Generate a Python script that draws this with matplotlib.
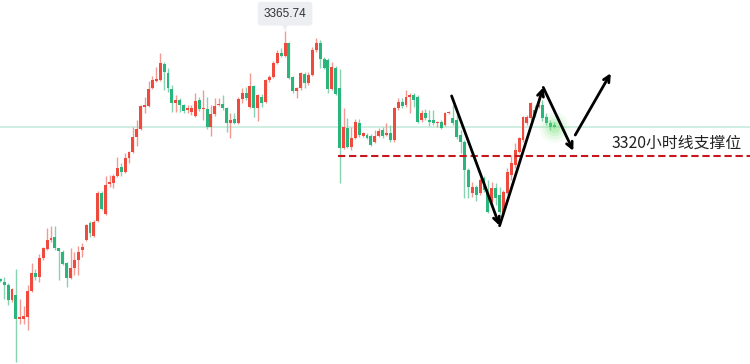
import matplotlib
matplotlib.use('Agg')
import matplotlib.pyplot as plt
import matplotlib.transforms as mtransforms
import numpy as np

plt.rcParams['font.family'] = ['Noto Sans CJK SC', 'DejaVu Sans']

# candle data (hourly OHLC)
opens = [
    3275.0, 3274.0, 3272.8, 3267.3, 3269.1, 3260.4, 3260.4, 3261.1, 3270.6, 3277.2,
    3275.7, 3282.7, 3286.0, 3289.3, 3290.4, 3286.3, 3284.9, 3280.8, 3275.4, 3279.0,
    3281.9, 3285.6, 3289.3, 3295.5, 3290.7, 3296.2, 3306.5, 3298.8, 3309.8, 3310.1,
    3312.7, 3316.0, 3314.2, 3319.3, 3321.5, 3327.0, 3329.9, 3337.9, 3338.3, 3344.9,
    3347.5, 3347.8, 3353.7, 3350.4, 3344.5, 3339.4, 3340.5, 3338.7, 3336.8, 3336.1,
    3334.6, 3340.5, 3337.2, 3337.2, 3330.6, 3335.4, 3338.7, 3339.0, 3337.6, 3332.1,
    3333.5, 3332.1, 3340.9, 3343.1, 3337.9, 3345.6, 3337.6, 3341.6, 3339.8, 3347.8,
    3348.9, 3354.0, 3357.7, 3356.6, 3361.4, 3348.9, 3343.8, 3344.9, 3350.0, 3346.7,
    3349.7, 3358.8, 3361.4, 3355.5, 3355.1, 3344.5, 3352.2, 3344.9, 3322.9, 3330.3,
    3323.3, 3326.6, 3332.1, 3327.3, 3327.7, 3327.3, 3325.1, 3327.3, 3329.5, 3327.7,
    3328.4, 3325.9, 3337.6, 3339.8, 3338.7, 3341.6, 3342.3, 3341.6, 3333.2, 3335.7,
    3333.2, 3333.2, 3332.1, 3332.4, 3331.4, 3335.7, 3333.9, 3333.2, 3327.7, 3325.1,
    3314.9, 3306.5, 3308.7, 3306.5, 3312.0, 3306.5, 3303.2, 3308.3, 3305.7, 3299.1,
    3306.5, 3313.1, 3316.7, 3321.5, 3325.9, 3332.1, 3333.9, 3336.8, 3337.9, 3338.7,
    3334.3, 3332.1, 3331.4,
]
closes = [
    3274.3, 3272.8, 3267.3, 3271.3, 3260.4, 3261.1, 3261.3, 3270.6, 3277.2, 3275.7,
    3282.7, 3286.3, 3289.3, 3290.0, 3286.3, 3285.2, 3280.5, 3275.4, 3279.0, 3281.9,
    3284.9, 3286.7, 3294.8, 3291.8, 3295.9, 3306.5, 3300.6, 3309.4, 3310.5, 3312.7,
    3315.6, 3314.2, 3319.3, 3321.5, 3327.0, 3329.9, 3338.3, 3338.7, 3344.5, 3347.8,
    3348.2, 3354.0, 3350.8, 3344.9, 3339.4, 3340.5, 3338.7, 3336.5, 3337.6, 3337.6,
    3340.1, 3337.2, 3337.6, 3330.6, 3335.4, 3338.3, 3339.0, 3337.6, 3332.1, 3333.2,
    3332.1, 3340.9, 3343.1, 3341.2, 3345.6, 3337.6, 3342.3, 3339.4, 3347.8, 3348.9,
    3354.0, 3357.7, 3356.6, 3361.4, 3348.5, 3343.8, 3344.9, 3350.4, 3346.7, 3349.7,
    3358.8, 3361.4, 3355.5, 3352.2, 3344.5, 3352.6, 3342.7, 3322.9, 3330.6, 3323.3,
    3326.6, 3332.4, 3327.7, 3328.4, 3326.6, 3324.0, 3327.3, 3329.2, 3327.3, 3328.4,
    3325.9, 3337.6, 3339.8, 3338.3, 3341.6, 3342.3, 3340.5, 3332.4, 3335.7, 3333.9,
    3332.4, 3332.1, 3332.4, 3330.3, 3335.7, 3336.1, 3332.1, 3327.0, 3325.1, 3314.9,
    3308.7, 3308.7, 3305.7, 3311.2, 3307.6, 3299.5, 3308.3, 3304.6, 3299.5, 3306.8,
    3314.2, 3317.4, 3322.2, 3326.6, 3334.3, 3334.3, 3339.4, 3335.0, 3338.7, 3333.9,
    3332.1, 3330.6, 3330.6,
]
highs = [
    3275.4, 3275.7, 3273.5, 3271.7, 3278.7, 3267.7, 3265.1, 3272.8, 3280.8, 3278.7,
    3284.1, 3286.7, 3293.7, 3294.4, 3294.4, 3286.3, 3285.6, 3281.2, 3286.3, 3284.9,
    3287.1, 3288.2, 3295.1, 3296.2, 3296.6, 3307.2, 3307.2, 3312.7, 3313.1, 3313.4,
    3319.6, 3317.4, 3321.1, 3321.8, 3330.6, 3333.2, 3338.7, 3341.6, 3347.5, 3349.3,
    3352.6, 3357.7, 3354.4, 3352.2, 3346.0, 3342.3, 3341.2, 3339.0, 3338.7, 3338.7,
    3343.1, 3341.6, 3344.2, 3341.6, 3338.7, 3341.2, 3341.2, 3342.3, 3337.9, 3335.7,
    3335.7, 3341.6, 3344.9, 3345.3, 3350.4, 3346.0, 3342.7, 3342.7, 3348.2, 3349.7,
    3354.8, 3358.8, 3359.5, 3365.74, 3361.7, 3349.3, 3345.3, 3350.8, 3350.8, 3350.8,
    3359.9, 3363.2, 3362.5, 3356.2, 3355.9, 3354.4, 3352.9, 3351.8, 3337.6, 3333.9,
    3330.6, 3333.5, 3333.5, 3328.8, 3328.4, 3328.1, 3329.5, 3330.3, 3330.6, 3332.1,
    3331.4, 3337.9, 3341.2, 3341.2, 3344.2, 3343.1, 3343.1, 3342.3, 3336.8, 3337.2,
    3336.8, 3336.8, 3332.8, 3333.2, 3336.1, 3336.5, 3338.7, 3335.0, 3329.5, 3325.9,
    3315.6, 3310.5, 3309.4, 3312.0, 3312.7, 3311.2, 3310.5, 3310.1, 3308.7, 3307.6,
    3315.6, 3320.4, 3324.8, 3327.0, 3334.6, 3335.0, 3339.8, 3338.7, 3343.1, 3340.5,
    3335.7, 3333.2, 3332.4,
]
lows = [
    3273.9, 3267.7, 3265.5, 3266.6, 3244.6, 3258.5, 3258.5, 3256.3, 3270.2, 3274.6,
    3273.9, 3281.9, 3285.6, 3288.5, 3285.6, 3274.6, 3280.1, 3272.1, 3275.0, 3276.5,
    3276.5, 3283.0, 3289.0, 3290.4, 3290.4, 3295.9, 3300.2, 3298.4, 3308.7, 3308.3,
    3312.3, 3312.7, 3313.8, 3317.4, 3321.1, 3323.7, 3329.5, 3335.7, 3337.9, 3344.5,
    3347.1, 3347.5, 3344.2, 3343.4, 3336.1, 3336.1, 3336.1, 3335.7, 3335.7, 3335.0,
    3334.3, 3336.5, 3333.2, 3329.9, 3327.3, 3334.6, 3338.3, 3336.8, 3328.8, 3326.6,
    3331.8, 3331.8, 3339.4, 3340.5, 3337.6, 3334.3, 3332.8, 3337.9, 3339.5, 3347.1,
    3348.6, 3353.7, 3356.2, 3356.3, 3348.2, 3343.1, 3341.2, 3344.2, 3344.9, 3346.0,
    3349.4, 3358.1, 3352.2, 3351.8, 3343.1, 3344.2, 3342.3, 3310.1, 3322.6, 3322.9,
    3322.2, 3326.2, 3327.0, 3327.0, 3326.2, 3323.7, 3324.8, 3327.0, 3326.6, 3327.3,
    3325.1, 3325.1, 3336.8, 3337.6, 3337.9, 3335.7, 3337.9, 3332.1, 3332.4, 3333.2,
    3331.0, 3331.4, 3330.6, 3329.9, 3331.0, 3335.4, 3331.4, 3326.2, 3321.1, 3304.6,
    3304.6, 3305.0, 3303.5, 3305.7, 3306.8, 3299.1, 3302.1, 3302.1, 3298.8, 3298.0,
    3306.1, 3311.2, 3315.6, 3321.1, 3325.1, 3331.4, 3333.2, 3334.3, 3337.6, 3332.8,
    3331.4, 3329.5, 3330.3,
]

support_level = 3320
support_label = "3320小时线支撑位"
current_price = 3330.6
peak_label = "3365.74"

# hand-drawn arrows (candle index, price)
down_leg = [(115.7, 3342.0), (128.0, 3294.5)]
up_leg = [(128.0, 3294.5), (139.2, 3345.1)]
pullback_leg = [(139.2, 3345.1), (146.9, 3321.9)]
breakout_leg = [(147.4, 3327.7), (156.5, 3350.3)]

RED = '#ee4b3e'
GREEN = '#2ab57d'
RED_WICK = '#f29a92'
GREEN_WICK = '#86d3b2'

o = np.array(opens)
c = np.array(closes)
h = np.array(highs)
l = np.array(lows)
idx = np.arange(len(o))
up = c >= o

fig = plt.figure(figsize=(7.5, 3.64), dpi=100)
ax = fig.add_axes([0, 0, 1, 1])
ax.set_xlim(-0.08, 192.2)
ax.set_ylim(3243.9, 3377.1)
ax.axis('off')

# current price line
ax.axhline(current_price, color='#c6eadb', lw=1.2, zorder=1)

# wicks
ax.vlines(idx, l, h, colors=np.where(up, RED_WICK, GREEN_WICK), lw=1.0, zorder=2)

# bodies
body_bottom = np.minimum(o, c)
body_height = np.maximum(np.abs(c - o), 0.5)
ax.bar(idx, body_height, bottom=body_bottom, width=0.75,
       color=np.where(up, RED, GREEN), linewidth=0, zorder=3)

# support line
ax.plot([86.6, 192.2], [support_level, support_level], color='#c8161d', lw=1.5,
        dashes=(3.5, 1.8), zorder=4)
ax.text(156.8, support_level + 4.8, support_label, fontsize=11.4, color='#222222',
        ha='left', va='center', zorder=6)

# glow on last candle
for s, a in [(480, 0.07), (300, 0.10), (160, 0.15), (70, 0.22)]:
    ax.scatter([idx[-1]], [c[-1]], s=s, color='#6fe06f', alpha=a, linewidths=0, zorder=5)

# arrows
for leg in [down_leg, up_leg, pullback_leg, breakout_leg]:
    ax.annotate('', xy=leg[1], xytext=leg[0],
                arrowprops=dict(arrowstyle='->', color='black', lw=2.0,
                                mutation_scale=11, shrinkA=0, shrinkB=0),
                zorder=7)

# peak price tag
peak_i = int(np.argmax(h))
tri = mtransforms.offset_copy(ax.transData, fig=fig, x=0, y=3.5, units='points')
ax.plot([peak_i], [h[peak_i]], marker='v', ms=7, color='#eceef2',
        markeredgewidth=0, transform=tri, zorder=7)
ax.annotate(peak_label, xy=(peak_i, h[peak_i]), xytext=(0, 12.5),
            textcoords='offset points', ha='center', va='center',
            fontsize=8.5, color='#333333', family='Liberation Sans',
            bbox=dict(boxstyle='round,pad=0.5,rounding_size=0.3',
                      fc='#eceef2', ec='none'), zorder=8)

plt.savefig('out.png', dpi=100)
plt.close()
